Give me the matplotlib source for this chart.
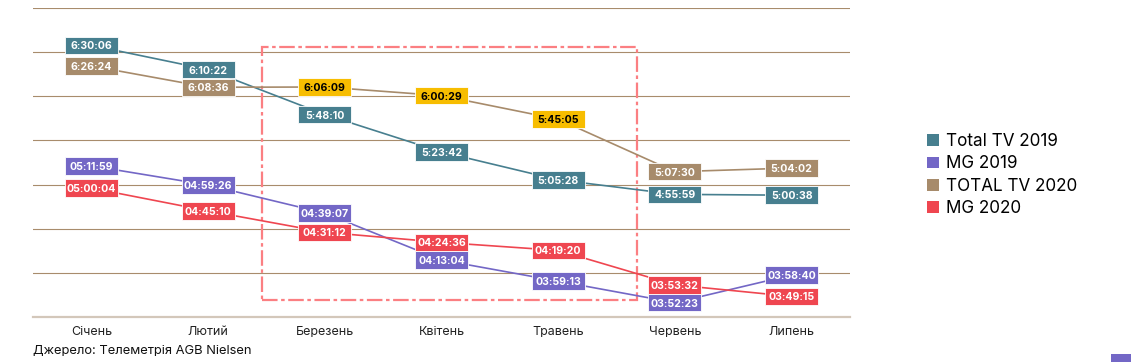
import numpy as np
import matplotlib
matplotlib.use("Agg")
import matplotlib.pyplot as plt
from matplotlib.patches import Rectangle, Patch
from matplotlib.transforms import ScaledTranslation

plt.rcParams["font.family"] = ["Inter", "DejaVu Sans"]

months = ["Січень", "Лютий", "Березень", "Квітень", "Травень", "Червень", "Липень"]

total_tv_2019 = ["6:30:06", "6:10:22", "5:48:10", "5:23:42", "5:05:28", "4:55:59", "5:00:38"]
mg_2019 = ["05:11:59", "04:59:26", "04:39:07", "04:13:04", "03:59:13", "03:52:23", "03:58:40"]
total_tv_2020 = ["6:26:24", "6:08:36", "6:06:09", "6:00:29", "5:45:05", "5:07:30", "5:04:02"]
mg_2020 = ["05:00:04", "04:45:10", "04:31:12", "04:24:36", "04:19:20", "03:53:32", "03:49:15"]

source_text = "Джерело: Телеметрія AGB Nielsen"


def to_minutes(s):
    h, m, sec = [int(p) for p in s.split(":")]
    return h * 60 + m + sec / 60


# series: label, values, line/box colour, label nudges in px (down = +) to keep boxes apart
series = [
    ("Total TV 2019", total_tv_2019, "#477f8f", [-5, -11, 0, 0, 0, 0, 8]),
    ("MG 2019", mg_2019, "#7367c6", [-4, -4, -7, 0, 0, 11, -7]),
    ("TOTAL TV 2020", total_tv_2020, "#a78b6b", [10, 4, 0, 0, 0, -5, -14]),
    ("MG 2020", mg_2020, "#ef4650", [0, 0, 0, 0, 0, -5, 0]),
]
highlight = {"TOTAL TV 2020": [2, 3, 4]}  # months shown with yellow boxes
yellow = "#f7bd00"

fig = plt.figure(figsize=(11.31, 3.62), dpi=100)
ax = fig.add_axes([33 / 1131, (362 - 316.7) / 362, 817 / 1131, 308.4 / 362])

# time axis like Excel: 0.15 .. 0.29 of a day, major unit 0.02
ax.set_ylim(0.15 * 1440, 0.29 * 1440)
ax.set_xlim(-0.5, 6.5)
ax.set_autoscale_on(False)
ax.set_yticks(np.arange(0.15, 0.2901, 0.02) * 1440)
ax.yaxis.grid(True, color="#a88c6c", linewidth=0.8)
ax.set_axisbelow(True)
ax.tick_params(axis="y", left=False, labelleft=False)
ax.set_xticks(range(len(months)))
ax.set_xticklabels(months, fontsize=9, color="#222222")
ax.tick_params(axis="x", length=0, pad=7)
for side in ["left", "right", "top"]:
    ax.spines[side].set_visible(False)
ax.spines["bottom"].set_color("#d3c7ba")
ax.spines["bottom"].set_linewidth(1.6)

x = np.arange(len(months))
for name, vals, color, nudge in series:
    mins = np.array([to_minutes(v) for v in vals])
    disp = ax.transData.transform(np.column_stack([x, mins]))
    disp[:, 1] -= np.array(nudge) * fig.dpi / 100
    pos = ax.transData.inverted().transform(disp)
    ax.plot(pos[:, 0], pos[:, 1], color=color, linewidth=1.2, zorder=3)
    for i, (px, py) in enumerate(pos):
        box_color = color
        txt_color = "white"
        if i in highlight.get(name, []):
            box_color = yellow
            txt_color = "black"
        tr = fig.dpi_scale_trans + ScaledTranslation(px, py, ax.transData)
        ax.add_patch(Rectangle((-0.265, -0.0875), 0.53, 0.175, transform=tr,
                               facecolor=box_color, edgecolor="white",
                               linewidth=0.6, zorder=4, clip_on=False))
        ax.text(px, py, vals[i], ha="center", va="center_baseline", color=txt_color,
                fontsize=7.6, fontweight="bold", zorder=5)

# dash-dot frame around the quarantine months
ax.add_patch(Rectangle((0.280, 0.054), 0.459, 0.821, transform=ax.transAxes,
                       fill=False, edgecolor="#fb7f82", linewidth=1.6,
                       linestyle=(0, (7, 1.6, 1.6, 1.6)), zorder=2, clip_on=False))

handles = [Patch(facecolor=c, edgecolor="none", label=n) for n, _, c, _ in series]
fig.legend(handles=handles, loc="upper left", bbox_to_anchor=(927 / 1131, 1 - 133 / 362),
           frameon=False, fontsize=12.3, handlelength=0.7, handleheight=0.7,
           handletextpad=0.4, labelspacing=0.32, borderpad=0, borderaxespad=0)

fig.text(33 / 1131, 1 - 351 / 362, source_text, fontsize=9.3, color="#111111",
         ha="left", va="center")

fig.patches.append(Rectangle((1111 / 1131, 0), 20 / 1131, 8 / 362,
                             transform=fig.transFigure, facecolor="#7367c6",
                             edgecolor="none"))

fig.savefig("out.png", dpi=100)
